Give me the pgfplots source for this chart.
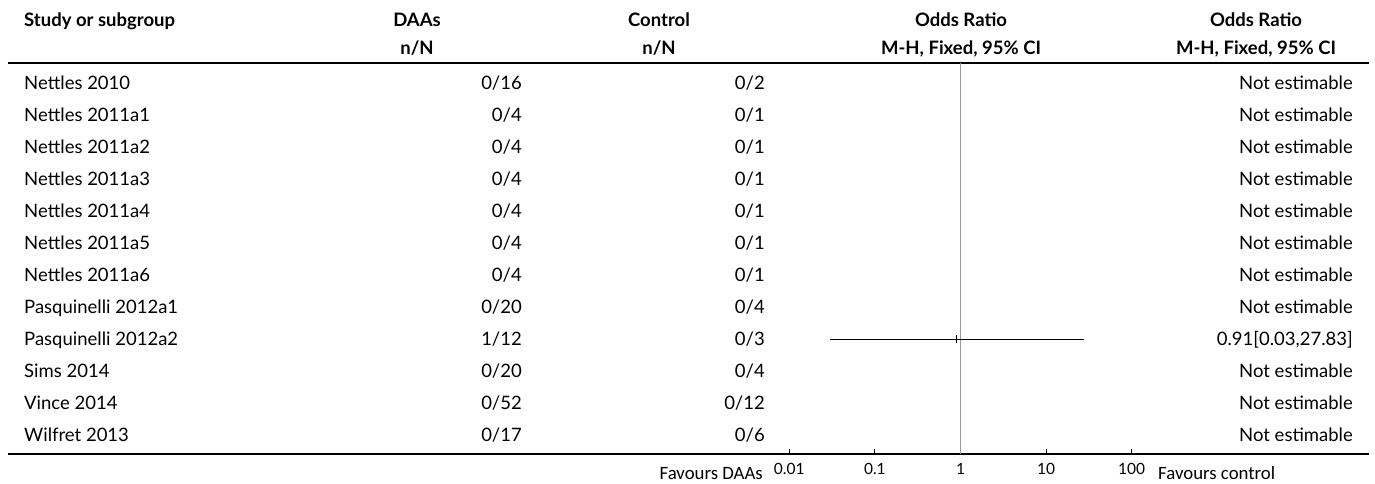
\documentclass[border=0pt]{standalone}
\usepackage{pgfplots}
\pgfplotsset{compat=1.18}
\usepackage{fontspec}
\setmainfont{Lato}
\newfontfamily\favfont{Carlito}
\begin{document}
\begin{tikzpicture}
% canvas in pt, 1pt per pixel column
\path (0pt,0pt) rectangle (1375pt,-483pt);
\begin{scope}[x=1pt,y=-1pt,every node/.style={inner sep=0pt,font=\fontsize{18.5}{21}\selectfont}]
  % header
  \node[anchor=base west] at (24,26) {\bfseries Study or subgroup};
  \node[anchor=base] at (417,26) {\bfseries DAAs};
  \node[anchor=base] at (417,54) {\bfseries n/N};
  \node[anchor=base] at (659,26) {\bfseries Control};
  \node[anchor=base] at (659,54) {\bfseries n/N};
  \node[anchor=base] at (961,26) {\bfseries Odds Ratio};
  \node[anchor=base] at (961,54) {\bfseries M-H, Fixed, 95\% CI};
  \node[anchor=base] at (1256,26) {\bfseries Odds Ratio};
  \node[anchor=base] at (1256,54) {\bfseries M-H, Fixed, 95\% CI};
  \draw[line width=1.6pt] (8,63) -- (1369,63);
  \draw[line width=1.6pt] (8,454) -- (1369,454);
  % study rows
  \foreach \k/\name/\ea/\ec/\est in {
    0/Nettles 2010/0\slash16/0\slash2/Not estimable,
    1/Nettles 2011a1/0\slash4/0\slash1/Not estimable,
    2/Nettles 2011a2/0\slash4/0\slash1/Not estimable,
    3/Nettles 2011a3/0\slash4/0\slash1/Not estimable,
    4/Nettles 2011a4/0\slash4/0\slash1/Not estimable,
    5/Nettles 2011a5/0\slash4/0\slash1/Not estimable,
    6/Nettles 2011a6/0\slash4/0\slash1/Not estimable,
    7/Pasquinelli 2012a1/0\slash20/0\slash4/Not estimable,
    8/Pasquinelli 2012a2/1\slash12/0\slash3/{0.91[0.03,27.83]},
    9/Sims 2014/0\slash20/0\slash4/Not estimable,
    10/Vince 2014/0\slash52/0\slash12/Not estimable,
    11/Wilfret 2013/0\slash17/0\slash6/Not estimable}{
    \pgfmathsetmacro{\yb}{89+32*\k}
    \node[anchor=base west] at (24,\yb) {\name};
    \node[anchor=base east] at (522,\yb) {\ea};
    \node[anchor=base east] at (765,\yb) {\ec};
    \node[anchor=base east] at (1353,\yb) {\est};
  }
  \node[anchor=base east,font=\favfont\fontsize{18.8}{21}\selectfont] at (763,479) {Favours DAAs};
  \node[anchor=base west,font=\favfont\fontsize{18.8}{21}\selectfont] at (1158,479) {Favours control};
\end{scope}
\begin{axis}[
  at={(779pt,-454pt)}, anchor=south west,
  width=363pt, height=391pt, scale only axis,
  xmode=log, xmin=0.00758, xmax=132,
  ymin=-12.594, ymax=-0.375,
  axis x line*=bottom, axis y line=none,
  axis line style={line width=2pt},
  xtick={0.01,0.1,1,10,100},
  xticklabels={0.01,0.1,1,10,100},
  tick align=inside, major tick length=5pt,
  x tick style={black,line width=1pt},
  minor tick num=0, xminorticks=false,
  tick label style={font=\fontsize{15.5}{18}\selectfont},
  xticklabel style={anchor=base,yshift=-20pt},
  /pgf/number format/assume math mode=true,
  clip=false,
]
  % line of no effect
  \addplot[gray!80,line width=1pt] coordinates {(1,-0.375) (1,-12.594)};
  % Pasquinelli 2012a2: OR 0.91 [0.03, 27.83]
  \addplot[black,line width=1pt] coordinates {(0.03,-9) (27.83,-9)};
  \addplot[black,only marks,mark=|,mark size=4pt,mark options={line width=1pt}] coordinates {(0.91,-9)};
\end{axis}
\end{tikzpicture}
\end{document}
